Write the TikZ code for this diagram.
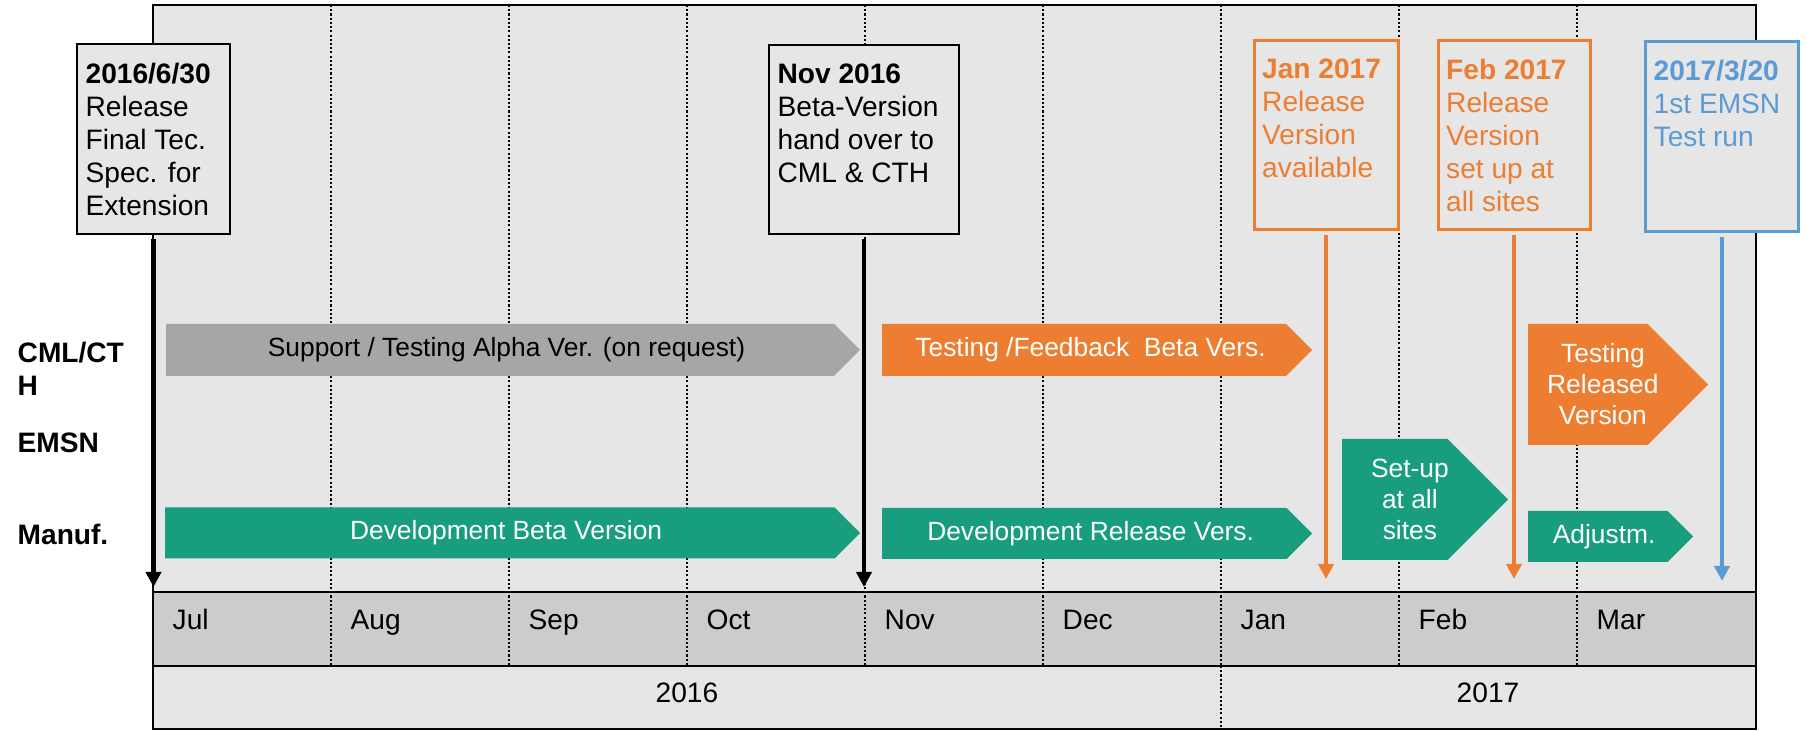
\documentclass[tikz,border=0pt]{standalone}
\usepackage{fontspec}
\setmainfont{Liberation Sans}
\usetikzlibrary{arrows.meta}

\definecolor{tlback}{RGB}{231,230,230}
\definecolor{tlband}{RGB}{204,204,204}
\definecolor{bargray}{RGB}{166,166,166}
\definecolor{tlorange}{RGB}{237,125,49}
\definecolor{tlgreen}{RGB}{24,158,126}
\definecolor{tlblue}{RGB}{91,155,213}

\newcommand{\tlfont}{\fontsize{8}{9.4}\selectfont}
\newcommand{\barfont}{\fontsize{7.5}{8.8}\selectfont}

\tikzset{
  frame/.style={draw=black, line width=0.7pt},
  month-sep/.style={line width=0.6pt, dash pattern=on 0.6pt off 0.6pt},
  lane-label/.style={anchor=north west, inner sep=0pt, align=left, font=\tlfont\bfseries},
  month-label/.style={anchor=base west, inner sep=0pt},
  bar-text/.style={align=center, inner sep=0pt, font=\barfont},
  ms-box/.style={draw=black, fill=tlback, line width=0.6pt, inner sep=0pt},
  ms-box-orange/.style={ms-box, draw=tlorange, line width=0.85pt},
  ms-box-blue/.style={ms-box, draw=tlblue, line width=0.85pt},
  ms-text/.style={anchor=north west, inner sep=0pt, align=left},
  ms-arrow/.style={line width=1.2pt, -{Triangle[length=4.3pt, width=4.3pt]}, shorten <=1pt}
}

% chevron bar: name, left x, tip x, centre y, half height, fill, text colour, text
\newcommand{\chevbar}[8]{
  \fill[#6] (#2,{#4+#5}) -- ({#3-#5},{#4+#5}) -- (#3,#4)
    -- ({#3-#5},{#4-#5}) -- (#2,{#4-#5}) -- cycle;
  \node[bar-text, text=#7] (#1) at ({(#2+#3-0.5*#5)/2},#4) {#8};
}

\begin{document}
\begin{tikzpicture}[font=\tlfont]
  \useasboundingbox (0,0) rectangle (18.07,7.31);

  % --- Parameters ---
  \def\xL{1.53}     % left edge of the chart
  \def\xR{17.56}    % right edge of the chart
  \def\mw{1.78}     % width of one month
  \def\yTop{7.26}   % top of the chart
  \def\yBand{1.39}  % top of the month band
  \def\yYear{0.65}  % top of the year band
  \def\yBot{0.02}   % bottom of the chart

  % --- Background and bands ---
  \filldraw[frame, fill=tlback] (\xL,\yBot) rectangle (\xR,\yTop);
  \filldraw[frame, fill=tlband] (\xL,\yYear) rectangle (\xR,\yBand);

  % --- Month separators ---
  \foreach \i in {1,...,8} {
    \draw[month-sep] ({\xL+\i*\mw},\yTop) -- ({\xL+\i*\mw},\yYear);
  }
  % year change goes on through the year band
  \draw[month-sep] ({\xL+6*\mw},\yYear) -- ({\xL+6*\mw},\yBot);

  % --- Month and year labels ---
  \foreach \m [count=\i from 0] in {Jul,Aug,Sep,Oct,Nov,Dec,Jan,Feb,Mar} {
    \node[month-label] (month-\m) at ({\xL+\i*\mw+0.19},1.01) {\m};
  }
  \node[anchor=base] (year-2016) at ({\xL+3*\mw},0.28) {2016};
  \node[anchor=base] (year-2017) at ({\xL+7.5*\mw},0.28) {2017};

  % --- Lane labels ---
  \node[lane-label] (lane-cml) at (0.17,3.90) {CML/CT\\H};
  \node[lane-label] (lane-emsn) at (0.17,2.99) {EMSN};
  \node[lane-label] (lane-manuf) at (0.17,2.08) {Manuf.};

  % --- Activity bars ---
  \chevbar{bar-alpha}{1.66}{8.60}{3.81}{0.26}{bargray}{black}{Support / Testing Alpha Ver. (on request)}
  \chevbar{bar-beta-test}{8.82}{13.12}{3.81}{0.26}{tlorange}{white}{Testing /Feedback~ Beta Vers.}
  \chevbar{bar-rel-test}{15.28}{17.08}{3.465}{0.605}{tlorange}{white}{Testing\\Released\\Version}
  \chevbar{bar-setup}{13.42}{15.08}{2.315}{0.605}{tlgreen}{white}{Set-up\\at all\\sites}
  \chevbar{bar-dev-beta}{1.65}{8.60}{1.98}{0.255}{tlgreen}{white}{Development Beta Version}
  \chevbar{bar-dev-rel}{8.82}{13.12}{1.975}{0.255}{tlgreen}{white}{Development Release Vers.}
  \chevbar{bar-adjust}{15.28}{16.93}{1.945}{0.255}{tlgreen}{white}{Adjustm.}

  % --- Milestones ---
  \node[ms-box, minimum width=1.53cm, minimum height=1.90cm] (ms-spec) at (1.535,5.92) {};
  \node[ms-text] (ms-spec-text) at ([shift={(0.09,-0.19)}]ms-spec.north west)
    {\textbf{2016/6/30}\\Release\\Final Tec.\\Spec. for\\Extension};

  \node[ms-box, minimum width=1.90cm, minimum height=1.89cm] (ms-beta) at (8.64,5.915) {};
  \node[ms-text] (ms-beta-text) at ([shift={(0.09,-0.19)}]ms-beta.north west)
    {\textbf{Nov 2016}\\Beta-Version\\hand over to\\CML \& CTH};

  \node[ms-box-orange, minimum width=1.44cm, minimum height=1.89cm] (ms-jan) at (13.26,5.955) {};
  \node[ms-text, text=tlorange] (ms-jan-text) at ([shift={(0.09,-0.19)}]ms-jan.north west)
    {\textbf{Jan 2017}\\Release\\Version\\available};

  \node[ms-box-orange, minimum width=1.52cm, minimum height=1.89cm] (ms-feb) at (15.14,5.955) {};
  \node[ms-text, text=tlorange] (ms-feb-text) at ([shift={(0.09,-0.19)}]ms-feb.north west)
    {\textbf{Feb 2017}\\Release\\Version\\set up at\\all sites};

  \node[ms-box-blue, minimum width=1.53cm, minimum height=1.90cm] (ms-emsn) at (17.22,5.94) {};
  \node[ms-text, text=tlblue] (ms-emsn-text) at ([shift={(0.09,-0.19)}]ms-emsn.north west)
    {\textbf{2017/3/20}\\1st EMSN\\Test run};

  % --- Milestone arrows ---
  \coordinate (tip-black) at (0,1.44);
  \coordinate (tip-orange) at (0,1.52);
  \coordinate (tip-blue) at (0,1.50);
  \draw[ms-arrow] (ms-spec.south) -- (ms-spec.south |- tip-black);
  \draw[ms-arrow] (ms-beta.south) -- (ms-beta.south |- tip-black);
  \draw[ms-arrow, tlorange] (ms-jan.south) -- (ms-jan.south |- tip-orange);
  \draw[ms-arrow, tlorange] (ms-feb.south) -- (ms-feb.south |- tip-orange);
  \draw[ms-arrow, tlblue] (ms-emsn.south) -- (ms-emsn.south |- tip-blue);
\end{tikzpicture}
\end{document}
